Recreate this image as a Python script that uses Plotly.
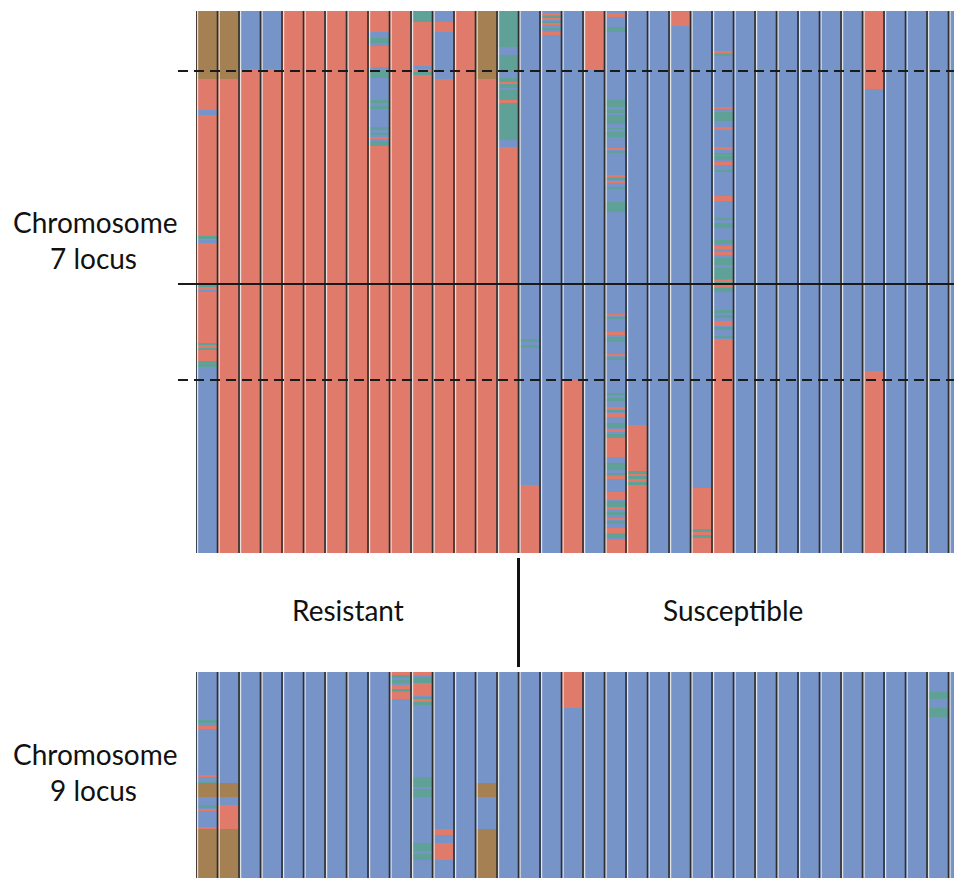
import numpy as np
import plotly.graph_objects as go

# ---------------- data ----------------
# genotype codes: S = susceptible-parent allele (blue), R = resistant-parent allele (red),
# H = heterozygous (teal), M = missing / unknown (brown)
code_values = {"S": 0, "R": 1, "H": 2, "M": 3}
code_colors = ["#7794c8", "#e07a6a", "#5fa097", "#a58052"]

n_lines = 36
group_labels = ["Resistant", "Susceptible"]
n_resistant = 15

panel_titles = [["Chromosome", "7 locus"], ["Chromosome", "9 locus"]]

chr7_markers = 542
chr9_markers = 206
chr7_boundaries_dashed = [60, 369]
chr7_center = 273

chr7_base = ["R"] * 15 + ["S"] * 21
chr9_base = ["S"] * 36

# (line, start marker, end marker, genotype)
chr7_blocks_resistant = [
    (0, 0, 68, "M"), (0, 99, 104, "S"), (0, 225, 228, "H"), (0, 229, 232, "S"),
    (0, 274, 276, "H"), (0, 279, 281, "S"), (0, 332, 334, "H"), (0, 337, 339, "H"),
    (0, 350, 356, "H"), (0, 356, 542, "S"),
    (1, 0, 68, "M"),
    (2, 0, 58, "S"), (3, 0, 58, "S"),
    (8, 21, 35, "S"), (8, 27, 32, "H"), (8, 56, 130, "S"), (8, 59, 67, "H"),
    (8, 89, 92, "H"), (8, 95, 98, "H"), (8, 116, 119, "H"), (8, 122, 124, "H"),
    (8, 126, 128, "R"), (8, 130, 135, "H"),
    (10, 0, 11, "H"), (10, 55, 58, "S"), (10, 61, 64, "H"),
    (11, 0, 11, "S"), (11, 21, 68, "S"),
    (13, 0, 68, "M"),
    (14, 0, 136, "H"), (14, 36, 44, "S"), (14, 61, 67, "S"), (14, 71, 73, "R"),
    (14, 77, 79, "S"), (14, 89, 92, "R"), (14, 129, 136, "S"),
]

chr7_blocks_susceptible = [
    (15, 328, 331, "H"), (15, 334, 337, "H"), (15, 474, 542, "R"),
    (16, 2, 4, "R"), (16, 5, 7, "H"), (16, 7, 9, "R"), (16, 10, 12, "H"),
    (16, 12, 14, "R"), (16, 17, 19, "H"), (16, 21, 24, "R"),
    (17, 369, 542, "R"),
    (18, 0, 59, "R"),
    (19, 2, 6, "R"), (19, 16, 21, "H"), (19, 89, 96, "H"), (19, 99, 102, "H"),
    (19, 104, 113, "H"), (19, 117, 118, "H"), (19, 121, 126, "H"), (19, 137, 139, "R"),
    (19, 140, 142, "H"), (19, 164, 166, "R"), (19, 167, 169, "H"), (19, 170, 172, "R"),
    (19, 176, 178, "H"), (19, 191, 201, "H"), (19, 303, 305, "R"), (19, 306, 308, "H"),
    (19, 321, 324, "R"), (19, 326, 331, "H"), (19, 343, 345, "R"), (19, 346, 349, "H"),
    (19, 382, 384, "H"), (19, 387, 390, "H"), (19, 396, 399, "R"), (19, 399, 401, "H"),
    (19, 402, 406, "R"), (19, 412, 417, "H"), (19, 418, 421, "R"), (19, 423, 427, "H"),
    (19, 427, 446, "R"), (19, 452, 459, "H"), (19, 462, 464, "H"), (19, 465, 468, "R"),
    (19, 481, 489, "R"), (19, 490, 496, "H"), (19, 496, 499, "R"), (19, 501, 504, "H"),
    (19, 507, 509, "R"), (19, 510, 513, "H"), (19, 517, 522, "R"), (19, 523, 527, "H"),
    (19, 529, 542, "R"),
    (20, 414, 542, "R"), (20, 460, 463, "H"), (20, 465, 468, "H"), (20, 471, 474, "H"),
    (22, 1, 15, "R"),
    (23, 477, 542, "R"), (23, 518, 521, "H"), (23, 524, 527, "H"),
    (24, 40, 42, "R"), (24, 43, 45, "H"), (24, 96, 98, "R"), (24, 101, 110, "H"),
    (24, 116, 119, "R"), (24, 136, 139, "R"), (24, 142, 144, "H"), (24, 145, 149, "H"),
    (24, 151, 154, "R"), (24, 159, 161, "H"), (24, 185, 190, "R"), (24, 207, 209, "H"),
    (24, 212, 217, "H"), (24, 229, 233, "H"), (24, 235, 238, "R"), (24, 241, 244, "R"),
    (24, 247, 254, "H"), (24, 257, 268, "H"), (24, 269, 271, "R"), (24, 271, 273, "H"),
    (24, 274, 276, "R"), (24, 277, 281, "H"), (24, 299, 302, "H"), (24, 304, 307, "H"),
    (24, 310, 315, "R"), (24, 316, 319, "H"), (24, 325, 327, "H"), (24, 328, 542, "R"),
    (31, 0, 78, "R"), (31, 360, 542, "R"),
]

chr9_blocks = [
    (0, 48, 51, "H"), (0, 54, 57, "R"), (0, 103, 105, "R"), (0, 110, 111, "H"),
    (0, 111, 125, "M"), (0, 133, 136, "H"), (0, 137, 139, "R"), (0, 155, 157, "R"),
    (0, 157, 206, "M"),
    (1, 111, 125, "M"), (1, 133, 157, "R"), (1, 157, 206, "M"),
    (9, 0, 3, "R"), (9, 3, 6, "H"), (9, 8, 11, "H"), (9, 13, 17, "R"), (9, 17, 19, "H"),
    (9, 20, 27, "R"),
    (10, 0, 3, "R"), (10, 5, 11, "H"), (10, 11, 24, "R"), (10, 25, 27, "H"),
    (10, 27, 30, "R"), (10, 30, 33, "H"), (10, 105, 115, "H"), (10, 117, 125, "H"),
    (10, 171, 179, "H"), (10, 182, 188, "H"),
    (11, 157, 163, "R"), (11, 171, 188, "R"),
    (13, 111, 125, "M"), (13, 157, 206, "M"),
    (17, 0, 36, "R"),
    (34, 20, 27, "H"), (34, 36, 45, "H"),
]


def build_matrix(base, blocks, n_markers):
    z = np.zeros((n_markers, len(base)))
    for c, code in enumerate(base):
        z[:, c] = code_values[code]
    for c, s, e, code in blocks:
        z[s:e, c] = code_values[code]
    return z


z7 = build_matrix(chr7_base, chr7_blocks_resistant + chr7_blocks_susceptible, chr7_markers)
z9 = build_matrix(chr9_base, chr9_blocks, chr9_markers)

# ---------------- figure ----------------
# the page body has an 8px default margin; size the figure so it ends at the window edge
PAGE_W, PAGE_H, OFF = 962, 878, 8
W, H = PAGE_W - OFF, PAGE_H - OFF


def px(xp):
    return (xp - OFF) / W


def py(yp):
    return 1 - (yp - OFF) / H


colorscale = []
for i, col in enumerate(code_colors):
    colorscale.append([i / 4, col])
    colorscale.append([(i + 1) / 4, col])

x = np.arange(n_lines)
fig = go.Figure()
fig.add_trace(go.Heatmap(z=z7, x=x, y=np.arange(chr7_markers) + 0.5, zmin=-0.5, zmax=3.5,
                         colorscale=colorscale, showscale=False, hoverinfo="skip",
                         xaxis="x", yaxis="y"))
fig.add_trace(go.Heatmap(z=z9, x=x, y=np.arange(chr9_markers) + 0.5, zmin=-0.5, zmax=3.5,
                         colorscale=colorscale, showscale=False, hoverinfo="skip",
                         xaxis="x2", yaxis="y2"))

col_px = 21.5
x_left_px = 196
x_range = [-0.5, -0.5 + (PAGE_W - x_left_px) / col_px]
top_px, bot_px = 11, 553
low_top_px = 672

ax = dict(visible=False, showgrid=False, zeroline=False, fixedrange=True)
fig.update_layout(
    width=W, height=H, margin=dict(l=0, r=0, t=0, b=0),
    paper_bgcolor="white", plot_bgcolor="white",
    xaxis=dict(ax, domain=[px(x_left_px), 1], range=x_range),
    yaxis=dict(ax, domain=[py(bot_px), py(top_px)], range=[chr7_markers, 0]),
    xaxis2=dict(ax, domain=[px(x_left_px), 1], range=x_range, anchor="y2"),
    yaxis2=dict(ax, domain=[0, py(low_top_px)], range=[chr9_markers, 0], anchor="x2"),
    showlegend=False,
)

shapes = []
for xa, ya in (("x", "y"), ("x2", "y2")):
    for k in range(n_lines):
        b = k - 0.5
        shapes.append(dict(type="line", xref=xa, yref=ya + " domain", x0=b + 1.6 / col_px,
                           x1=b + 1.6 / col_px, y0=0, y1=1,
                           line=dict(color="rgba(235,235,235,0.9)", width=1.2)))
        shapes.append(dict(type="line", xref=xa, yref=ya + " domain", x0=b, x1=b, y0=0, y1=1,
                           line=dict(color="#2e2e2e", width=1.6)))

for yv in chr7_boundaries_dashed:
    shapes.append(dict(type="line", xref="paper", yref="y", x0=px(178), x1=1, y0=yv, y1=yv,
                       line=dict(color="#1a1a1a", width=2, dash="10px,6px")))
shapes.append(dict(type="line", xref="paper", yref="y", x0=px(178), x1=1,
                   y0=chr7_center, y1=chr7_center, line=dict(color="#1a1a1a", width=1.8)))
# divider between resistant and susceptible lines
div_x = x_left_px + n_resistant * col_px
shapes.append(dict(type="line", xref="paper", yref="paper", x0=px(div_x), x1=px(div_x),
                   y0=py(558), y1=py(667), line=dict(color="#111", width=3)))
fig.update_layout(shapes=shapes)

font = dict(family="Lato, Carlito, sans-serif", size=28, color="#111")
ann = []


def add_text(txt, xp, yp):
    ann.append(dict(text=txt, x=px(xp), y=py(yp), xref="paper", yref="paper",
                    showarrow=False, xanchor="center", yanchor="middle", font=font))


add_text(panel_titles[0][0], 95, 222)
add_text(panel_titles[0][1], 93, 258)
add_text(panel_titles[1][0], 95, 754)
add_text(panel_titles[1][1], 93, 790)
add_text(group_labels[0], 348, 610)
add_text(group_labels[1], 733, 610)
fig.update_layout(annotations=ann)

fig.write_html("out.html")
